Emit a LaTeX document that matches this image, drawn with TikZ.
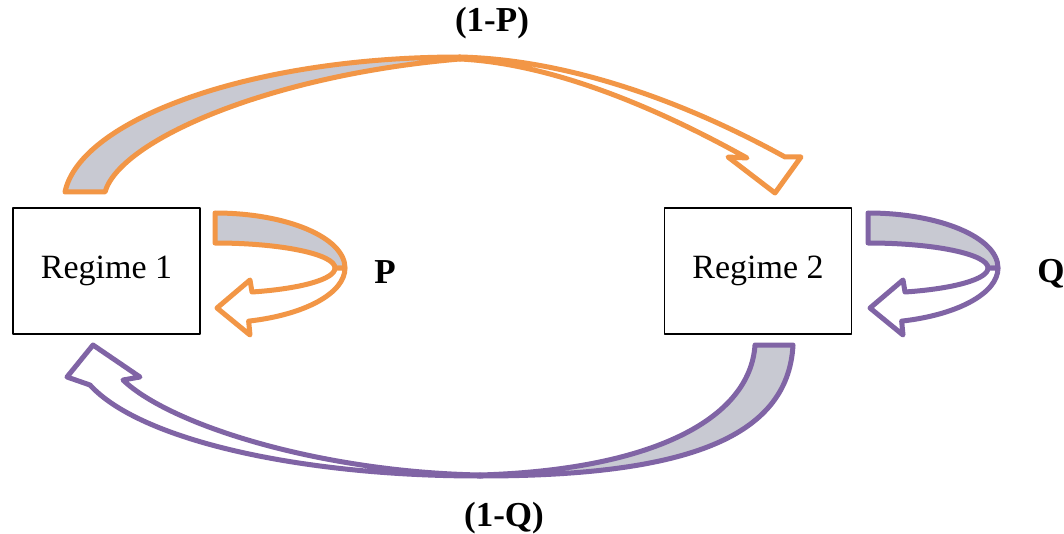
\documentclass[tikz,border=0pt]{standalone}
\usepackage{fontspec}
\setmainfont{Liberation Serif}
\usepackage{tikz}
\usetikzlibrary{calc}

\definecolor{arrorange}{RGB}{242,150,70}
\definecolor{arrpurple}{RGB}{128,100,165}
\definecolor{backgray}{RGB}{200,201,210}

\tikzset{
  regime/.style={draw=black, line width=0.8pt, minimum width=93.5pt, minimum height=63pt, inner sep=0pt, font=\fontsize{17}{20}\selectfont},
  lbl/.style={inner sep=0pt, font=\fontsize{17.5}{20}\selectfont\bfseries},
  backband/.style={draw=#1, fill=backgray, line width=2.5pt},
  frontband/.style={draw=#1, fill=white, line width=2.5pt}
}

\begin{document}
\begin{tikzpicture}[x=0.5pt, y=-0.5pt, line join=round]
        \clip (0,0) rectangle (1064,534);
        \fill[white] (0,0) rectangle (1064,534);

        % 상태 박스
        \node[regime] (reg1) at (106.5,271) {Regime 1};
        \node[regime] (reg2) at (758,271) {Regime 2};

        % 위쪽 화살표 (Regime 1 -> Regime 2)
        \draw[backband=arrorange] (65,192) -- (105,192) .. controls (120,140) and (270,75) .. (460,59)
            -- (460,57) .. controls (250,57) and (80,120) .. (65,192) -- cycle;
        \draw[frontband=arrorange] (460,57) .. controls (580,60) and (700,110) .. (785,157)
            -- (801,157) -- (775,193) -- (728,157) -- (747,158)
            .. controls (670,115) and (560,64) .. (460,59) -- cycle;

        % 아래쪽 화살표 (Regime 2 -> Regime 1)
        \draw[backband=arrpurple] (755,345) -- (793,345) .. controls (788,440) and (680,476) .. (480,476)
            -- (480,475) .. controls (650,470) and (750,420) .. (755,345) -- cycle;
        \draw[frontband=arrpurple] (480,476) .. controls (300,476) and (140,440) .. (90,385)
            -- (67,377) -- (93,345) -- (140,377) -- (123,380)
            .. controls (170,425) and (320,472) .. (480,475) -- cycle;

        % 자기 전이 P
        \draw[backband=arrorange] (215,213) -- (215,243) arc[start angle=-90, end angle=0, x radius=120, y radius=25]
            -- (345,268) arc[start angle=0, end angle=-90, x radius=130, y radius=55] -- cycle;
        \draw[frontband=arrorange] (345,268) arc[start angle=0, end angle=75, x radius=130, y radius=55]
            -- (250,335) -- (217,308) -- (250,280) -- (252,292)
            arc[start angle=72, end angle=0, x radius=120, y radius=25] -- cycle;

        % 자기 전이 Q
        \begin{scope}[shift={(653,0)}]
        \draw[backband=arrpurple] (215,213) -- (215,243) arc[start angle=-90, end angle=0, x radius=120, y radius=25]
            -- (345,268) arc[start angle=0, end angle=-90, x radius=130, y radius=55] -- cycle;
        \draw[frontband=arrpurple] (345,268) arc[start angle=0, end angle=75, x radius=130, y radius=55]
            -- (250,335) -- (217,308) -- (250,280) -- (252,292)
            arc[start angle=72, end angle=0, x radius=120, y radius=25] -- cycle;
        \end{scope}

        % 확률 라벨
        \node[lbl] (probP) at (385,272) {P};
        \node[lbl] (probQ) at (1051,274) {Q};
        \node[lbl] (prob1P) at (492,23) {(1-P)};
        \node[lbl] (prob1Q) at (504,518) {(1-Q)};
    \end{tikzpicture}
\end{document}
